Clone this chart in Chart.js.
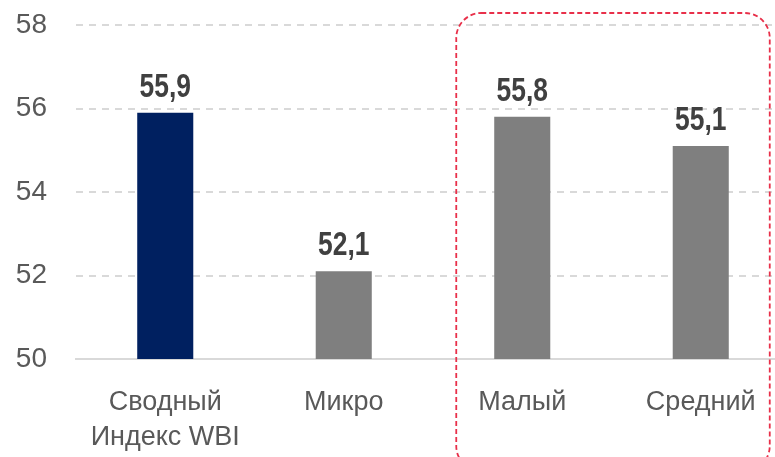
<!DOCTYPE html>
<html>
<head>
<meta charset="utf-8">
<script src="https://cdn.jsdelivr.net/npm/chart.js@4/dist/chart.umd.min.js"></script>
<style>
  html, body { margin: 0; padding: 0; background: #fff; overflow: hidden; }
  #wrap { width: 790px; height: 457px; }
</style>
</head>
<body>
<div id="wrap"><canvas id="grafico"></canvas></div>
<script>
var categorias = [['Сводный', 'Индекс WBI'], 'Микро', 'Малый', 'Средний'];
var valores = [55.9, 52.1, 55.8, 55.1];
var cores = ['#002060', '#7f7f7f', '#7f7f7f', '#7f7f7f'];
var ticksY = [50, 52, 54, 56, 58];

var fonte = "'Liberation Sans', Arial, sans-serif";

// rótulos de valor acima das barras (fonte estreitada na horizontal)
var rotulos = {
  id: 'rotulos',
  afterDatasetsDraw: function(chart) {
    var ctx = chart.ctx;
    var meta = chart.getDatasetMeta(0);
    ctx.save();
    ctx.font = 'bold 33px ' + fonte;
    ctx.fillStyle = '#404040';
    ctx.textAlign = 'center';
    ctx.textBaseline = 'alphabetic';
    meta.data.forEach(function(bar, i) {
      ctx.save();
      ctx.translate(bar.x, bar.y - 16);
      ctx.scale(0.8, 1);
      ctx.fillText(valores[i].toFixed(1).replace('.', ','), 0, 0);
      ctx.restore();
    });
    ctx.restore();
  }
};

// moldura tracejada vermelha em volta de Малый / Средний
var moldura = {
  id: 'moldura',
  afterDraw: function(chart) {
    var x = chart.scales.x, y = chart.scales.y;
    var esq = x.getPixelForValue(2) - 66;
    var dir = x.getPixelForValue(3) + 69;
    var topo = y.getPixelForValue(58) - 12;
    var base = chart.height + 14;
    var ctx = chart.ctx;
    ctx.save();
    ctx.strokeStyle = '#e8304a';
    ctx.lineWidth = 1.8;
    ctx.setLineDash([5, 3]);
    ctx.beginPath();
    ctx.roundRect(esq, topo, dir - esq, base - topo, 25);
    ctx.stroke();
    ctx.restore();
  }
};

new Chart(document.getElementById('grafico'), {
  type: 'bar',
  data: {
    labels: categorias,
    datasets: [{
      data: valores,
      backgroundColor: cores,
      barPercentage: 0.314,
      categoryPercentage: 1
    }]
  },
  options: {
    responsive: true,
    maintainAspectRatio: false,
    animation: false,
    layout: { padding: { top: 25, bottom: 0, right: 0 } },
    plugins: { legend: { display: false }, tooltip: { enabled: false } },
    scales: {
      x: {
        afterFit: function(s) { s.height = 98; s.paddingLeft = 0; s.paddingRight = 0; },
        grid: { display: false, drawTicks: false },
        border: { display: true, color: '#d9d9d9', width: 2 },
        ticks: {
          color: '#595959',
          font: { family: fonte, size: 27, lineHeight: 1.3 },
          padding: 26,
          maxRotation: 0
        }
      },
      y: {
        min: 50,
        max: 58,
        afterFit: function(s) { s.width = 76; s.paddingTop = 0; s.paddingBottom = 0; },
        afterBuildTicks: function(s) { s.ticks = ticksY.map(function(v) { return { value: v }; }); },
        grid: { color: '#d9d9d9', lineWidth: 2, drawTicks: false },
        border: { display: false, dash: [7, 6] },
        ticks: {
          color: '#595959',
          font: { family: fonte, size: 28 },
          padding: 29
        }
      }
    }
  },
  plugins: [rotulos, moldura]
});
</script>
</body>
</html>
